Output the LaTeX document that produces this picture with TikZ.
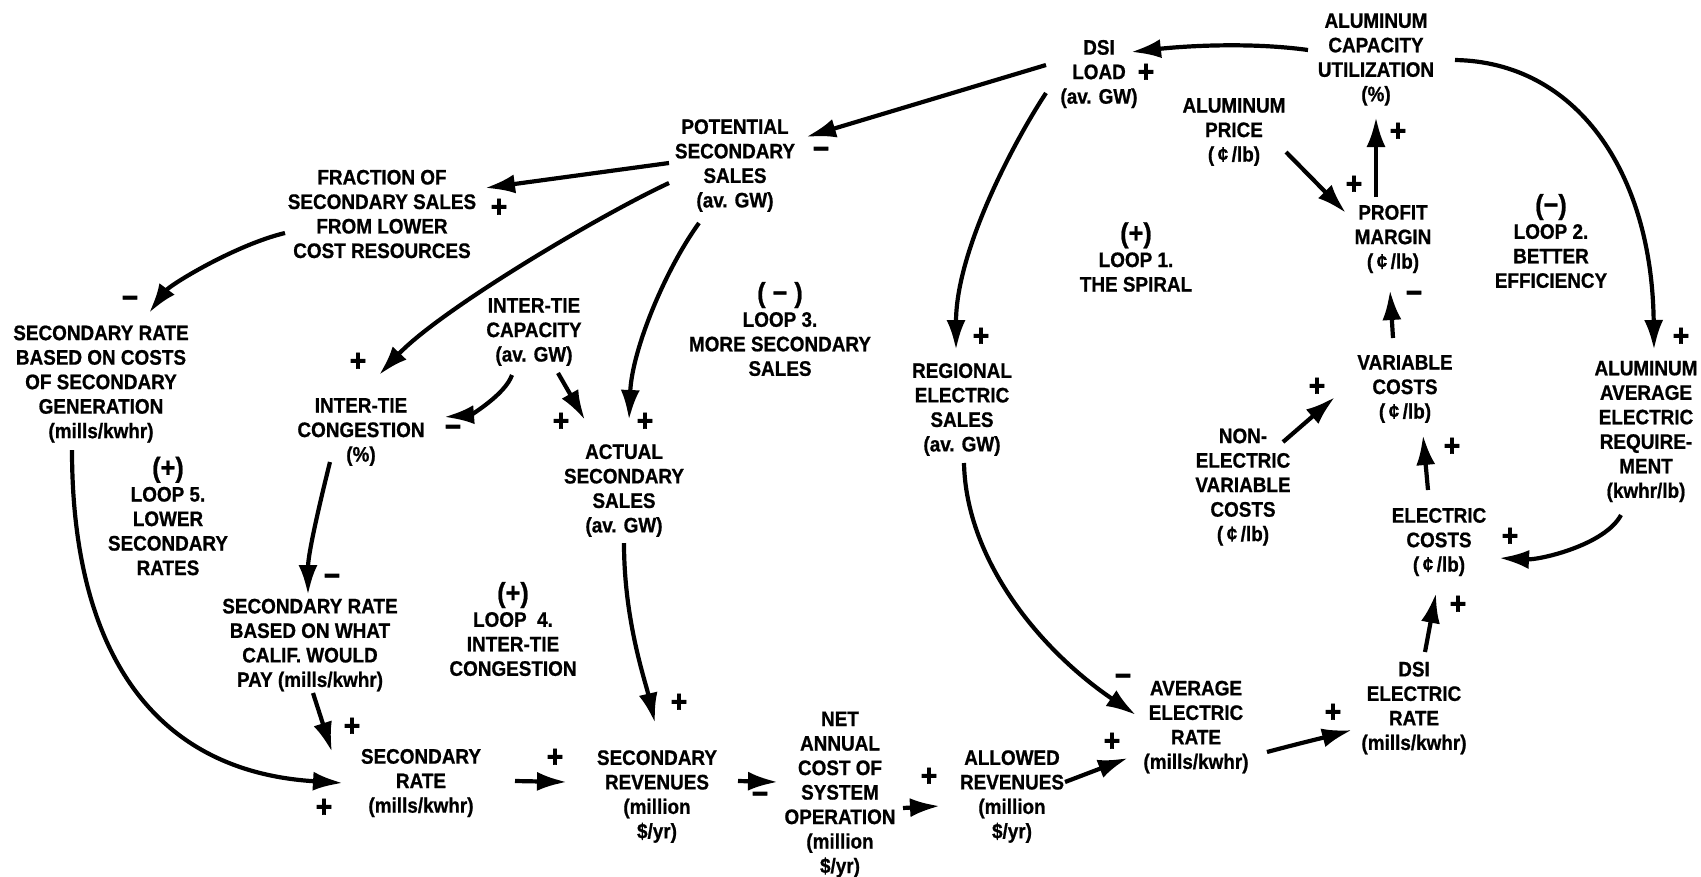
\documentclass[tikz,border=0pt]{standalone}
\usepackage{fontspec}
\setmainfont{Liberation Sans}[FakeStretch=0.9,BoldFeatures={FakeBold=0.8}]
\newfontfamily\signfam{Liberation Sans}[FakeStretch=0.9,BoldFeatures={FakeBold=2}]
\usetikzlibrary{arrows.meta,calc}
\newcommand{\lblfont}{\fontsize{21}{24.5}\selectfont\bfseries}
\newcommand{\sgnfont}{\signfam\fontsize{31}{31}\selectfont\bfseries}
\newcommand{\looptag}[1]{{\fontsize{28}{32}\selectfont #1}}
\begin{document}
\begin{tikzpicture}[x=1pt,y=-1pt,
  lbl/.style={align=center,inner sep=0pt,font=\lblfont},
  sgn/.style={inner sep=0pt,font=\sgnfont},
  arr/.style={line width=4.2pt,-{Latex[length=30pt,width=19pt]}}]
\fill[white] (0,0) rectangle (1701,876);
\path[use as bounding box] (0,0) rectangle (1701,876);

% ---------------- nodes ----------------
\node[lbl] (dsi) at (1099,74) {DSI\\LOAD\\(av. GW)};
\node[lbl] (acu) at (1376,59.5) {ALUMINUM\\CAPACITY\\UTILIZATION\\(\%)};
\node[lbl] (price) at (1234,132) {ALUMINUM\\PRICE\\(\,¢\,/lb)};
\node[lbl] (profit) at (1393,239) {PROFIT\\MARGIN\\(\,¢\,/lb)};
\node[lbl] (loop2) at (1551,241) {\looptag{(−)}\\LOOP 2.\\BETTER\\EFFICIENCY};
\node[lbl] (loop1) at (1136,257) {\looptag{(+)}\\LOOP 1.\\THE SPIRAL};
\node[lbl] (pot) at (735,165.5) {POTENTIAL\\SECONDARY\\SALES\\(av. GW)};
\node[lbl] (frac) at (382,214) {FRACTION OF\\SECONDARY SALES\\FROM LOWER\\COST RESOURCES};
\node[lbl] (srcost) at (101,384) {SECONDARY RATE\\BASED ON COSTS\\OF SECONDARY\\GENERATION\\(mills/kwhr)};
\node[lbl] (cap) at (534,332) {INTER-TIE\\CAPACITY\\(av. GW)};
\node[lbl] (loop3) at (780,329) {\looptag{( − )}\\LOOP 3.\\MORE SECONDARY\\SALES};
\node[lbl] (cong) at (361,432) {INTER-TIE\\CONGESTION\\(\%)};
\node[lbl] (actual) at (624,490.5) {ACTUAL\\SECONDARY\\SALES\\(av. GW)};
\node[lbl] (regional) at (962,409.5) {REGIONAL\\ELECTRIC\\SALES\\(av. GW)};
\node[lbl] (varc) at (1405,389) {VARIABLE\\COSTS\\(\,¢\,/lb)};
\node[lbl] (aaer) at (1646,431.5) {ALUMINUM\\AVERAGE\\ELECTRIC\\REQUIRE-\\MENT\\(kwhr/lb)};
\node[lbl] (nonel) at (1243,487) {NON-\\ELECTRIC\\VARIABLE\\COSTS\\(\,¢\,/lb)};
\node[lbl] (elec) at (1439,542) {ELECTRIC\\COSTS\\(\,¢\,/lb)};
\node[lbl] (calif) at (310,645) {SECONDARY RATE\\BASED ON WHAT\\CALIF. WOULD\\PAY (mills/kwhr)};
\node[lbl] (loop4) at (513,629) {\looptag{(+)}\\LOOP\ \ 4.\\INTER-TIE\\CONGESTION};
\node[lbl] (loop5) at (168,516) {\looptag{(+)}\\LOOP 5.\\LOWER\\SECONDARY\\RATES};
\node[lbl] (srate) at (421,783) {SECONDARY\\RATE\\(mills/kwhr)};
\node[lbl] (srev) at (657,796.5) {SECONDARY\\REVENUES\\(million\\\$/yr)};
\node[lbl] (net) at (840,794.5) {NET\\ANNUAL\\COST OF\\SYSTEM\\OPERATION\\(million\\\$/yr)};
\node[lbl] (allowed) at (1012,796.5) {ALLOWED\\REVENUES\\(million\\\$/yr)};
\node[lbl] (avg) at (1196,727) {AVERAGE\\ELECTRIC\\RATE\\(mills/kwhr)};
\node[lbl] (dsirate) at (1414,708) {DSI\\ELECTRIC\\RATE\\(mills/kwhr)};

% ---------------- polarity signs ----------------
\node[sgn] (s1) at (1146,73) {+};
\node[sgn] (s2) at (821,153) {−};
\node[sgn] (s3) at (499,208) {+};
\node[sgn] (s4) at (130,302) {−};
\node[sgn] (s5) at (358,362) {+};
\node[sgn] (s6) at (453,431) {−};
\node[sgn] (s7) at (561,422) {+};
\node[sgn] (s8) at (645,422) {+};
\node[sgn] (s9) at (981,337) {+};
\node[sgn] (s10) at (1681,337) {+};
\node[sgn] (s11) at (1354,185) {+};
\node[sgn] (s12) at (1398,132) {+};
\node[sgn] (s13) at (1414,297) {−};
\node[sgn] (s14) at (1317,387) {+};
\node[sgn] (s15) at (1452,447) {+};
\node[sgn] (s16) at (1510,537) {+};
\node[sgn] (s17) at (1458,605) {+};
\node[sgn] (s18) at (332,580) {−};
\node[sgn] (s19) at (352,727) {+};
\node[sgn] (s20) at (324,808) {+};
\node[sgn] (s21) at (679,703) {+};
\node[sgn] (s22) at (555,758) {+};
\node[sgn] (s23) at (760,798) {−};
\node[sgn] (s24) at (929,777) {+};
\node[sgn] (s25) at (1123,680) {−};
\node[sgn] (s26) at (1112,742) {+};
\node[sgn] (s27) at (1333,713) {+};

% ---------------- connectors ----------------
\draw[arr] ($(acu)+(-68,-9.5)$) .. controls (1250,42) and (1185,46) .. ($(dsi)+(32,-22)$);
\draw[arr] ($(dsi)+(-53,-9)$) -- ($(pot)+(71,-28.5)$);
\draw[arr] ($(dsi)+(-53,19)$) .. controls (1015,140) and (956,250) .. ($(regional)+(-6,-59.5)$);
\draw[arr] ($(acu)+(79,0.5)$) .. controls (1575,62) and (1652,170) .. ($(aaer)+(8,-81.5)$);
\draw[arr] ($(price)+(52,20)$) -- ($(profit)+(-47,-26)$);
\draw[arr] ($(profit)+(-17,-42)$) -- ($(acu)+(0,57.5)$);
\draw[arr] ($(varc)+(-12,-51)$) -- ($(profit)+(-3,51)$);
\draw[arr] ($(nonel)+(40,-45)$) -- ($(varc)+(-70,8)$);
\draw[arr] ($(elec)+(-11,-52)$) -- ($(varc)+(18,46)$);
\draw[arr] ($(aaer)+(-25,83.5)$) .. controls (1605,545) and (1540,560) .. ($(elec)+(60,16)$);
\draw[arr] ($(dsirate)+(11,-56)$) -- ($(elec)+(-3,51)$);
\draw[arr] ($(avg)+(71,25)$) .. controls (1297,744) and (1322,738) .. ($(dsirate)+(-62,22)$);
\draw[arr] ($(allowed)+(53,-14.5)$) -- ($(avg)+(-68,31)$);
\draw[arr] ($(regional)+(2,53.5)$) .. controls (966,560) and (1040,650) .. ($(avg)+(-60,-12)$);
\draw[arr] ($(net)+(63,13.5)$) -- ($(allowed)+(-72,9.5)$);
\draw[arr] ($(srev)+(81,-15.5)$) -- ($(net)+(-62,-12.5)$);
\draw[arr] ($(srate)+(94,-2)$) -- ($(srev)+(-90,-14.5)$);
\draw[arr] ($(actual)+(0,52.5)$) .. controls (624,620) and (645,680) .. ($(srev)+(-2,-73.5)$);
\draw[arr] ($(calif)+(3,48)$) -- ($(srate)+(-89,-31)$);
\draw[arr] ($(srcost)+(-29,66)$) .. controls (72,640) and (145,771) .. ($(srate)+(-78,0)$);
\draw[arr] ($(cong)+(-31,30)$) .. controls (318,510) and (308,555) .. ($(calif)+(-2,-50)$);
\draw[arr] ($(cap)+(-22,43)$) .. controls (505,395) and (470,415) .. ($(cong)+(83,-15)$);
\draw[arr] ($(cap)+(24,41)$) -- ($(actual)+(-39,-70.5)$);
\draw[arr] ($(pot)+(-36,57.5)$) .. controls (665,270) and (632,350) .. ($(actual)+(5,-70.5)$);
\draw[arr] ($(pot)+(-66,17.5)$) .. controls (600,215) and (440,310) .. ($(cong)+(18,-57)$);
\draw[arr] ($(pot)+(-66,-2.5)$) -- ($(frac)+(103,-26)$);
\draw[arr] ($(frac)+(-97,19)$) .. controls (235,245) and (170,285) .. ($(srcost)+(48,-71)$);
\end{tikzpicture}
\end{document}
